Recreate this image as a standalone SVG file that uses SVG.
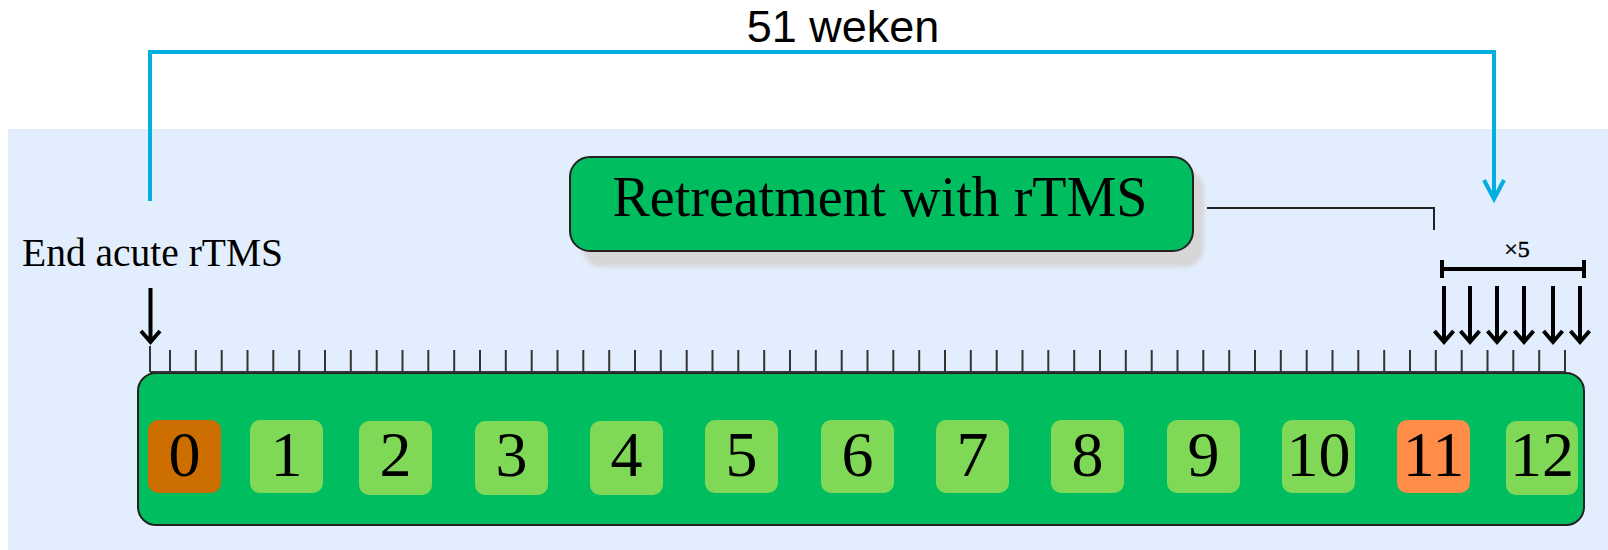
<svg xmlns="http://www.w3.org/2000/svg" width="1608" height="550" viewBox="0 0 1608 550">
<style>
.serif{font-family:"Liberation Serif","Times New Roman",serif;fill:#000}
.num{font-family:"Liberation Serif","Times New Roman",serif;font-size:64px;text-anchor:middle;fill:#000}
.mbox{fill:#7fd957}
.blue{fill:none;stroke:#00aee0;stroke-width:4}
.blk{fill:none;stroke:#000;stroke-width:4}
.tick{fill:none;stroke:#333;stroke-width:2}
</style>
<defs>
<filter id="blur" x="-5%" y="-20%" width="110%" height="140%"><feGaussianBlur stdDeviation="2"/></filter>
</defs>
<rect x="8" y="129" width="1600" height="421" fill="#e2eefd"/>
<text x="843" y="42" font-family="Liberation Sans, Arial, sans-serif" font-size="45" text-anchor="middle" fill="#000">51 weken</text>
<g id="label-end-acute">
<text class="serif" x="22" y="266" font-size="39.5">End acute rTMS</text>
</g>
<g id="retreatment">
<rect x="582" y="170" width="622" height="97" rx="20" fill="#d6d6d6" filter="url(#blur)"/>
<rect x="570" y="157" width="623" height="94" rx="20" fill="#00be60" stroke="#222" stroke-width="2"/>
<text class="serif" x="880" y="216" font-size="56" text-anchor="middle">Retreatment with rTMS</text>
</g>
<g id="times5">
<path class="blk" d="M1442 269H1584M1442 260V278M1584 260V278" stroke-width="3.5"/>
<text class="serif" x="1517" y="257" font-size="24" text-anchor="middle" stroke="#000" stroke-width="0.5">×5</text>
</g>
<g id="timeline">
<rect x="138" y="373" width="1446" height="152" rx="18" fill="#00be60" stroke="#222" stroke-width="2"/>
<path class="tick" d="M150 372H1565M150 346V372M170 350V372M195.8 350V372M221.7 350V372M247.5 350V372M273.3 350V372M299.2 350V372M325 350V372M350.8 350V372M376.7 350V372M402.5 350V372M428.3 350V372M454.2 350V372M480 350V372M505.8 350V372M531.7 350V372M557.5 350V372M583.3 350V372M609.2 350V372M635 350V372M660.8 350V372M686.7 350V372M712.5 350V372M738.3 350V372M764.2 350V372M790 350V372M815.8 350V372M841.7 350V372M867.5 350V372M893.3 350V372M919.2 350V372M945 350V372M970.8 350V372M996.7 350V372M1022.5 350V372M1048.3 350V372M1074.2 350V372M1100 350V372M1125.8 350V372M1151.7 350V372M1177.5 350V372M1203.3 350V372M1229.2 350V372M1255 350V372M1280.8 350V372M1306.7 350V372M1332.5 350V372M1358.3 350V372M1384.2 350V372M1410 350V372M1435.8 350V372M1461.7 350V372M1487.5 350V372M1513.3 350V372M1539.2 350V372M1565 350V372"/>
</g>
<g id="m0"><rect x="148" y="420" width="73" height="73" rx="10" fill="#cd6f00"/><text class="num" x="184.5" y="476">0</text></g>
<g id="m1"><rect class="mbox" x="250" y="420" width="73" height="73" rx="10"/><text class="num" x="286.5" y="476">1</text></g>
<g id="m2"><rect class="mbox" x="359" y="421" width="73" height="74" rx="10"/><text class="num" x="395.5" y="476">2</text></g>
<g id="m3"><rect class="mbox" x="475" y="421" width="73" height="74" rx="10"/><text class="num" x="511.5" y="476">3</text></g>
<g id="m4"><rect class="mbox" x="590" y="421" width="73" height="74" rx="10"/><text class="num" x="626.5" y="476">4</text></g>
<g id="m5"><rect class="mbox" x="705" y="420" width="73" height="73" rx="10"/><text class="num" x="741.5" y="476">5</text></g>
<g id="m6"><rect class="mbox" x="821" y="420" width="73" height="73" rx="10"/><text class="num" x="857.5" y="476">6</text></g>
<g id="m7"><rect class="mbox" x="936" y="420" width="73" height="73" rx="10"/><text class="num" x="972.5" y="476">7</text></g>
<g id="m8"><rect class="mbox" x="1051" y="420" width="73" height="73" rx="10"/><text class="num" x="1087.5" y="476">8</text></g>
<g id="m9"><rect class="mbox" x="1167" y="420" width="73" height="73" rx="10"/><text class="num" x="1203.5" y="476">9</text></g>
<g id="m10"><rect class="mbox" x="1282" y="420" width="73" height="73" rx="10"/><text class="num" x="1318.5" y="476">10</text></g>
<g id="m11"><rect x="1397" y="420" width="73" height="73" rx="10" fill="#ff8c47"/><text class="num" x="1433.5" y="476">11</text></g>
<g id="m12"><rect class="mbox" x="1506" y="421" width="72" height="74" rx="10"/><text class="num" x="1542" y="476">12</text></g>
<g id="connectors">
<path class="blue" d="M150 201V52H1494V199"/>
<path class="blue" d="M1484 180L1494 199L1504 180"/>
<path fill="none" stroke="#222" stroke-width="2" d="M1207 208H1434V230"/>
<path class="blk" d="M150.5 288V341M141 331L150.5 342L160 331"/>
<path class="blk" d="M1444 286V341M1434.5 331L1444 342L1453.5 331"/>
<path class="blk" d="M1470 286V341M1460.5 331L1470 342L1479.5 331"/>
<path class="blk" d="M1497 286V341M1487.5 331L1497 342L1506.5 331"/>
<path class="blk" d="M1524 286V341M1514.5 331L1524 342L1533.5 331"/>
<path class="blk" d="M1553 286V341M1543.5 331L1553 342L1562.5 331"/>
<path class="blk" d="M1580 286V341M1570.5 331L1580 342L1589.5 331"/>
</g>
</svg>
